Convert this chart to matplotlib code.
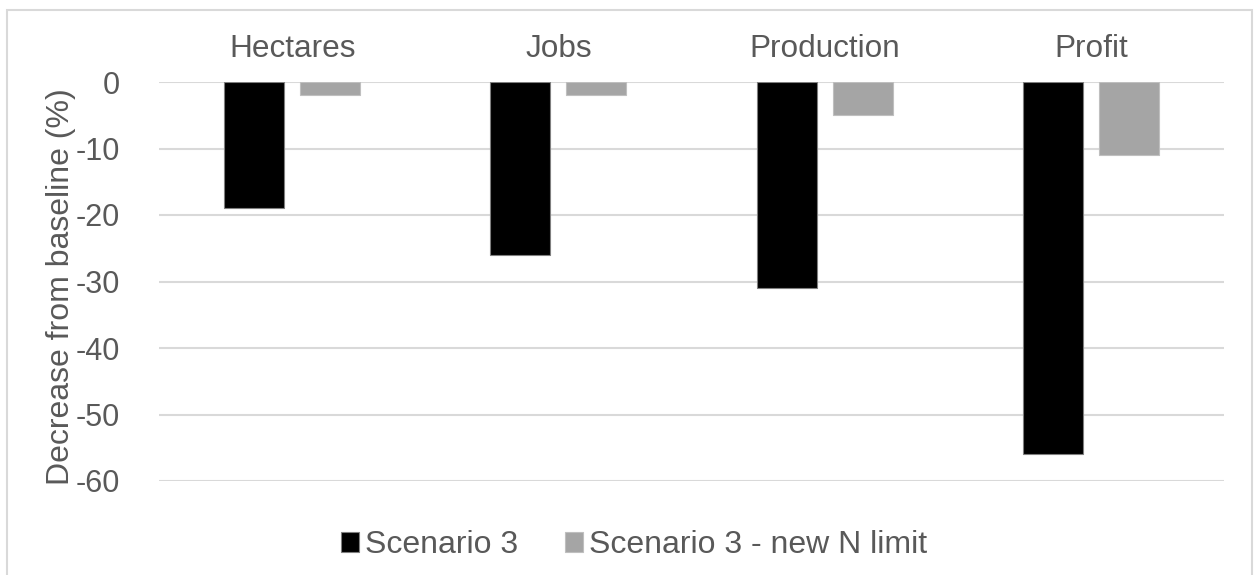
import matplotlib
matplotlib.use("Agg")
import matplotlib.pyplot as plt
import numpy as np
from matplotlib.patches import Rectangle

categories = ["Hectares", "Jobs", "Production", "Profit"]
scenario3 = [-19, -26, -31, -56]
scenario3_new_n = [-2, -2, -5, -11]
yticks = [0, -10, -20, -30, -40, -50, -60]

plt.rcParams["font.family"] = ["Liberation Sans", "DejaVu Sans"]
text_color = "#595959"
grid_color = "#d9d9d9"

W, H = 1255, 575
fig = plt.figure(figsize=(W / 100, H / 100), dpi=100)
ax = fig.add_axes([159 / W, 1 - 481 / H, (1224 - 159) / W, (481 - 82) / H])

x = np.arange(len(categories))
w = 0.225
off = 0.143
ax.bar(x - off, scenario3, width=w, color="black", edgecolor="#7f7f7f", linewidth=0.8,
       label="Scenario 3", zorder=3)
ax.bar(x + off, scenario3_new_n, width=w, color="#a5a5a5", edgecolor="#bfbfbf", linewidth=0.8,
       label="Scenario 3 - new N limit", zorder=3)

ax.set_xlim(-0.5, len(categories) - 0.5)
ax.set_ylim(-60, 0)
ax.set_yticks(yticks)
ax.set_yticklabels([str(v) for v in yticks])
ax.yaxis.grid(True, color=grid_color, linewidth=1.5, zorder=0)
ax.tick_params(axis="y", length=0, labelsize=22, colors=text_color, pad=28)
ax.xaxis.tick_top()
ax.set_xticks(x)
ax.set_xticklabels(categories)
ax.tick_params(axis="x", length=0, labelsize=22.7, colors=text_color, pad=13)
for s in ax.spines.values():
    s.set_visible(False)

fig.text(61 / W, 1 - 287 / H, "Decrease from baseline (%)", rotation=90, ha="center",
         va="center", fontsize=23, color=text_color)

fig.legend(loc="center", bbox_to_anchor=(634 / W, 1 - 545 / H), ncol=2, frameon=False,
           fontsize=23, labelcolor=text_color, handlelength=0.58, handleheight=0.58,
           handletextpad=0.18, columnspacing=1.45, borderaxespad=0, borderpad=0)

# outer chart border
fig.patches.append(Rectangle((7 / W, -0.01), (1252 - 7) / W, 1 - 10 / H + 0.01,
                             transform=fig.transFigure, fill=False, edgecolor=grid_color,
                             linewidth=1.5))

fig.savefig("out.png", dpi=100, facecolor="white")
